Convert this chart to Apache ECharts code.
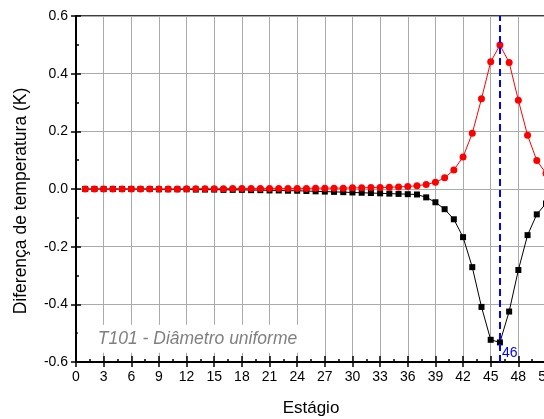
<!DOCTYPE html>
<html>
<head>
<meta charset="utf-8">
<script src="https://cdn.jsdelivr.net/npm/echarts@6/dist/echarts.min.js"></script>
<style>
  html, body { margin: 0; padding: 0; background: #fff; }
  #chart { width: 544px; height: 419px; }
</style>
</head>
<body>
<div id="chart"></div>
<script>
// estágios 1..51
const stages = [];
for (let i = 1; i <= 51; i++) stages.push(i);

const redValues = [
    0.000, 0.000, 0.000, 0.000, 0.000, 0.000, 0.000, 0.000, 0.000, 0.000,
    0.000, 0.001, 0.001, 0.001, 0.001, 0.001, 0.002, 0.002, 0.002, 0.002,
    0.002, 0.002, 0.002, 0.002, 0.002, 0.003, 0.003, 0.003, 0.003, 0.004,
    0.004, 0.005, 0.005, 0.006, 0.007, 0.009, 0.011,
    0.016, 0.023, 0.039, 0.066, 0.111, 0.193, 0.313, 0.441, 0.499, 0.439,
    0.308, 0.186, 0.099, 0.054
];

const blackValues = [
    0.000, 0.000, 0.000, 0.000, 0.000, 0.000, 0.000, 0.000, -0.001, -0.001,
    -0.001, -0.001, -0.002, -0.002, -0.002, -0.003, -0.003, -0.003, -0.004, -0.004,
    -0.005, -0.005, -0.006, -0.006, -0.007, -0.008, -0.009, -0.010, -0.011, -0.012,
    -0.013, -0.014, -0.015, -0.016, -0.017, -0.018, -0.019,
    -0.029, -0.046, -0.070, -0.105, -0.167, -0.271, -0.409, -0.523, -0.532, -0.425,
    -0.281, -0.160, -0.088, -0.050
];

const markStage = 46;
const annotation = "T101 - Diâmetro uniforme";

const font = "'Liberation Sans', Arial, sans-serif";

const chart = echarts.init(document.getElementById("chart"));

const xBase = {
    type: "value",
    min: 0,
    max: 51,
    interval: 3,
    position: "bottom"
};
const yBase = {
    type: "value",
    min: -0.6,
    max: 0.6,
    interval: 0.2,
    position: "left"
};

const option = {
    animation: false,
    backgroundColor: "#fff",
    grid: {
        left: 76,
        right: -2,
        top: 16,
        bottom: 57,
        outerBoundsMode: "none",
        containLabel: false,
        show: true,
        borderColor: "#000",
        borderWidth: 1.5,
        backgroundColor: "transparent"
    },
    xAxis: [
        Object.assign({}, xBase, {
            name: "Estágio",
            nameLocation: "middle",
            nameGap: 38,
            nameTextStyle: { color: "#000", fontSize: 17, fontFamily: font },
            axisLine: { onZero: false, lineStyle: { color: "#000", width: 2 } },
            axisTick: { show: true, inside: false, length: 5, lineStyle: { color: "#000", width: 1.5 } },
            axisLabel: {
                color: "#000", fontSize: 14, fontFamily: font, margin: 8,
                showMaxLabel: true,
                formatter: v => String(v)
            },
            splitLine: { show: true, lineStyle: { color: "#aaaaaa", width: 1 } }
        }),
        Object.assign({}, xBase, {
            axisLine: { show: false, onZero: false },
            axisTick: { show: true, inside: true, length: 6, lineStyle: { color: "#000", width: 1.5 } },
            minorTick: { show: true, splitNumber: 2, length: 3, lineStyle: { color: "#000", width: 1.5 } },
            axisLabel: { show: false },
            splitLine: { show: false }
        })
    ],
    yAxis: [
        Object.assign({}, yBase, {
            name: "Diferença de temperatura (K)",
            nameLocation: "middle",
            nameGap: 46,
            nameTextStyle: { color: "#000", fontSize: 17.5, fontFamily: font, padding: [0, 24, 0, 0] },
            axisLine: { onZero: false, lineStyle: { color: "#000", width: 2 } },
            axisTick: { show: true, inside: false, length: 5, lineStyle: { color: "#000", width: 1.5 } },
            axisLabel: {
                color: "#000", fontSize: 14, fontFamily: font, margin: 8,
                formatter: v => v.toFixed(1)
            },
            splitLine: { show: true, lineStyle: { color: "#aaaaaa", width: 1 } }
        }),
        Object.assign({}, yBase, {
            axisLine: { show: false, onZero: false },
            axisTick: { show: true, inside: true, length: 5, lineStyle: { color: "#000", width: 1.5 } },
            minorTick: { show: true, splitNumber: 2, length: 3, lineStyle: { color: "#000", width: 1.5 } },
            axisLabel: { show: false },
            splitLine: { show: false }
        })
    ],
    series: [
        {
            name: "caixa",
            type: "line",
            data: [],
            markArea: {
                silent: true,
                itemStyle: { color: "#fff" },
                label: {
                    show: true,
                    position: "insideLeft",
                    distance: 20,
                    color: "#808080",
                    fontSize: 17.5,
                    fontStyle: "italic",
                    fontFamily: font,
                    formatter: annotation
                },
                data: [[{ coord: [0.2, -0.471] }, { coord: [24.5, -0.568] }]]
            }
        },
        {
            name: "preto",
            type: "line",
            data: stages.map((s, i) => [s, blackValues[i]]),
            symbol: "rect",
            symbolSize: 6,
            itemStyle: { color: "#000" },
            lineStyle: { color: "#000", width: 1 },
            z: 3
        },
        {
            name: "vermelho",
            type: "line",
            data: stages.map((s, i) => [s, redValues[i]]),
            symbol: "circle",
            symbolSize: 7,
            itemStyle: { color: "#ff0000" },
            lineStyle: { color: "#ff0000", width: 1 },
            z: 4,
            markLine: {
                silent: true,
                symbol: "none",
                label: { show: false },
                lineStyle: { color: "#0000ff", type: [7, 4], width: 2 },
                data: [{ xAxis: markStage }]
            },
            markPoint: {
                symbol: "circle",
                symbolSize: 0,
                label: {
                    show: true,
                    position: "right",
                    distance: 2,
                    color: "#0000ff",
                    fontSize: 14,
                    fontFamily: font,
                    formatter: String(markStage)
                },
                data: [{ coord: [markStage, -0.568] }]
            }
        }
    ]
};

chart.setOption(option);
</script>
</body>
</html>
